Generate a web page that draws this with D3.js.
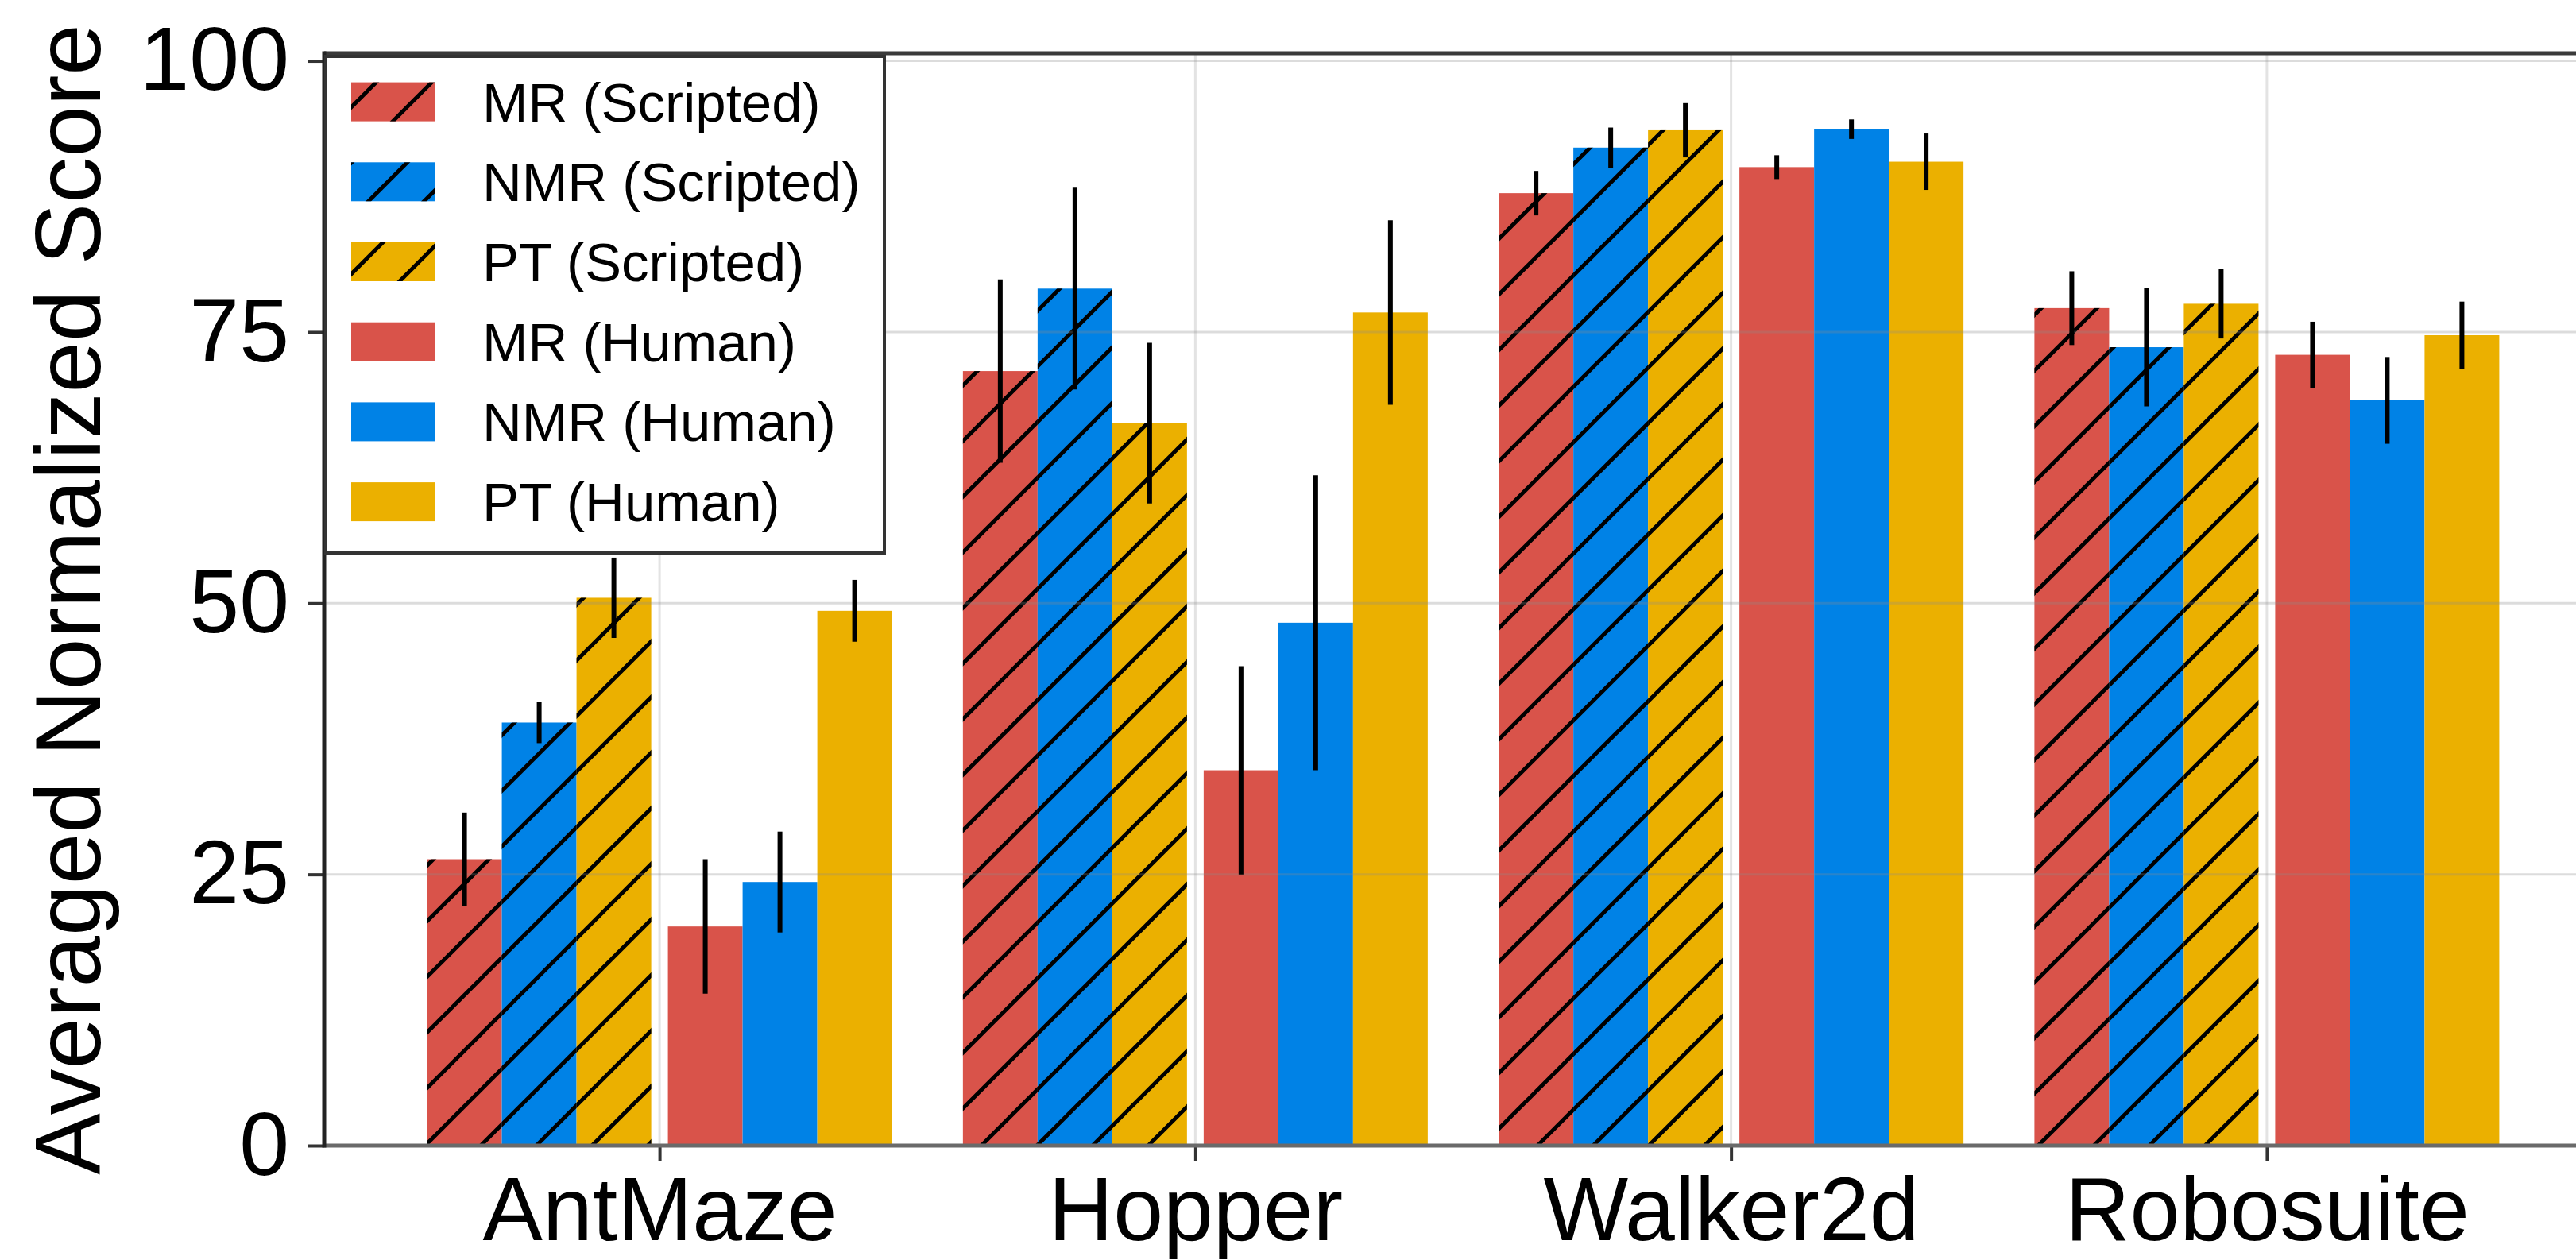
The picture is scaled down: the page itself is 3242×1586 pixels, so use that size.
<!DOCTYPE html>
<html>
<head>
<meta charset="utf-8">
<script src="https://cdn.jsdelivr.net/npm/d3@7"></script>
<style>
  html, body { margin: 0; padding: 0; background: #ffffff; }
  svg { display: block; }
  text { font-family: "Liberation Sans", Arial, Helvetica, sans-serif; }
</style>
</head>
<body>
<script>
// ---------------- DATA ----------------
const categories = ["AntMaze", "Hopper", "Walker2d", "Robosuite"];
const seriesNames = ["MR (Scripted)", "NMR (Scripted)", "PT (Scripted)", "MR (Human)", "NMR (Human)", "PT (Human)"];
const seriesHatched = [true, true, true, false, false, false];
const seriesColors = ["#D9534A", "#0082E6", "#EBB000", "#D9534A", "#0082E6", "#EBB000"];

const mrScripted  = [26.4, 71.4, 87.8, 77.2];
const nmrScripted = [39.0, 79.0, 92.0, 73.6];
const ptScripted  = [50.5, 66.6, 93.6, 77.6];
const mrHuman     = [20.2, 34.6, 90.2, 72.9];
const nmrHuman    = [24.3, 48.2, 93.7, 68.7];
const ptHuman     = [49.3, 76.8, 90.7, 74.7];

const mrScriptedErr  = [4.3, 8.45, 2.05, 3.4];
const nmrScriptedErr = [1.9, 9.3, 1.85, 5.45];
const ptScriptedErr  = [3.7, 7.4, 2.5, 3.2];
const mrHumanErr     = [6.2, 9.6, 1.1, 3.05];
const nmrHumanErr    = [4.65, 13.6, 0.9, 4.0];
const ptHumanErr     = [2.85, 8.5, 2.6, 3.1];

const yTicks = [0, 25, 50, 75, 100];
const yLabel = "Averaged Normalized Score";

const seriesValues = [mrScripted, nmrScripted, ptScripted, mrHuman, nmrHuman, ptHuman];
const seriesErrors = [mrScriptedErr, nmrScriptedErr, ptScriptedErr, mrHumanErr, nmrHumanErr, ptHumanErr];

// ---------------- LAYOUT ----------------
const W = 3242, H = 1586;
const plotLeft = 408, plotRight = 3275, plotTop = 67, plotBottom = 1442;
const barW = 94, halfGap = 10.5;
const font = 113;

const svg = d3.select("body").append("svg").attr("width", W).attr("height", H);

const x = d3.scalePoint().domain(categories).range([plotLeft, plotRight]).padding(0.626);
const y = d3.scaleLinear().domain([0, 100.7]).range([plotBottom, plotTop]);

function offset(i) {
  return i < 3 ? -halfGap - (3 - i) * barW : halfGap + (i - 3) * barW;
}

// hatch pattern (45 deg "/" lines, anchored in figure space)
const defs = svg.append("defs");
const c = 17;
const pat = defs.append("pattern").attr("id", "hatch")
  .attr("patternUnits", "userSpaceOnUse").attr("width", 70).attr("height", 70);
pat.append("path")
  .attr("d", `M${-20},${c + 20} L${c + 20},${-20} M${c - 20},${90} L${90},${c - 20}`)
  .attr("stroke", "#000").attr("stroke-width", 5).attr("fill", "none");

// vertical grid lines (behind)
const grid = svg.append("g");
grid.selectAll("line.vg").data(categories).enter().append("line")
  .attr("x1", d => x(d)).attr("x2", d => x(d))
  .attr("y1", plotTop).attr("y2", plotBottom)
  .attr("stroke", "#e3e3e3").attr("stroke-width", 3);

// bars
const flat = [];
seriesValues.forEach((vals, si) => {
  vals.forEach((v, ci) => flat.push({ si, cat: categories[ci], v, e: seriesErrors[si][ci] }));
});

const barsG = svg.append("g");
barsG.selectAll("rect.bar").data(flat).enter().append("rect")
  .attr("x", d => x(d.cat) + offset(d.si))
  .attr("width", barW)
  .attr("y", d => y(d.v))
  .attr("height", d => y(0) - y(d.v))
  .attr("fill", d => seriesColors[d.si]);
barsG.selectAll("rect.hatch").data(flat.filter(d => seriesHatched[d.si])).enter().append("rect")
  .attr("x", d => x(d.cat) + offset(d.si))
  .attr("width", barW)
  .attr("y", d => y(d.v))
  .attr("height", d => y(0) - y(d.v))
  .attr("fill", "url(#hatch)");

// horizontal grid lines (semi-transparent, over bars)
svg.append("g").selectAll("line").data(yTicks.filter(t => t > 0)).enter().append("line")
  .attr("x1", plotLeft).attr("x2", plotRight)
  .attr("y1", d => y(d)).attr("y2", d => y(d))
  .attr("stroke", "rgba(140,140,140,0.3)").attr("stroke-width", 3);

// error bars
svg.append("g").selectAll("line").data(flat).enter().append("line")
  .attr("x1", d => x(d.cat) + offset(d.si) + barW / 2)
  .attr("x2", d => x(d.cat) + offset(d.si) + barW / 2)
  .attr("y1", d => y(d.v - d.e))
  .attr("y2", d => y(d.v + d.e))
  .attr("stroke", "#000").attr("stroke-width", 6);

// axes
const yAxis = d3.axisLeft(y).tickValues(yTicks).tickSize(20).tickPadding(24).tickFormat(d3.format("d"));
const yg = svg.append("g").attr("transform", `translate(${plotLeft},0)`).call(yAxis);
yg.select(".domain").remove();
yg.selectAll(".tick line").attr("stroke", "#333").attr("stroke-width", 4);
yg.selectAll(".tick text").attr("font-size", font).attr("fill", "#000")
  .attr("font-family", "'Liberation Sans', Arial, Helvetica, sans-serif");

const xAxis = d3.axisBottom(x).tickSize(20).tickPadding(22);
const xg = svg.append("g").attr("transform", `translate(0,${plotBottom})`).call(xAxis);
xg.select(".domain").remove();
xg.selectAll(".tick line").attr("stroke", "#333").attr("stroke-width", 4);
xg.selectAll(".tick text").attr("font-size", font).attr("fill", "#000")
  .attr("dy", null).attr("y", 119)
  .attr("font-family", "'Liberation Sans', Arial, Helvetica, sans-serif");

// spines
svg.append("line").attr("x1", plotLeft).attr("x2", plotRight).attr("y1", plotBottom).attr("y2", plotBottom)
  .attr("stroke", "#6a6a6a").attr("stroke-width", 5);
svg.append("line").attr("x1", plotLeft).attr("x2", plotRight).attr("y1", plotTop).attr("y2", plotTop)
  .attr("stroke", "#3a3a3a").attr("stroke-width", 5);
svg.append("line").attr("x1", plotLeft).attr("x2", plotLeft).attr("y1", plotTop - 2.5).attr("y2", plotBottom + 2.5)
  .attr("stroke", "#222").attr("stroke-width", 5);

// y label
svg.append("text")
  .attr("transform", `translate(126,${(plotTop + plotBottom) / 2}) rotate(-90)`)
  .attr("text-anchor", "middle")
  .attr("font-size", 116)
  .attr("fill", "#000")
  .text(yLabel);

// legend
const lg = svg.append("g");
lg.append("rect").attr("x", 410).attr("y", 71).attr("width", 703).attr("height", 625)
  .attr("fill", "#fff").attr("stroke", "#333").attr("stroke-width", 4);
const rowY = i => 103.6 + i * 100.7;
seriesNames.forEach((name, i) => {
  lg.append("rect").attr("x", 442).attr("y", rowY(i)).attr("width", 106).attr("height", 49)
    .attr("fill", seriesColors[i]);
  if (seriesHatched[i]) {
    lg.append("rect").attr("x", 442).attr("y", rowY(i)).attr("width", 106).attr("height", 49)
      .attr("fill", "url(#hatch)");
  }
  lg.append("text").attr("x", 607).attr("y", rowY(i) + 49)
    .attr("font-size", 69).attr("fill", "#000").text(name);
});
</script>
</body>
</html>
